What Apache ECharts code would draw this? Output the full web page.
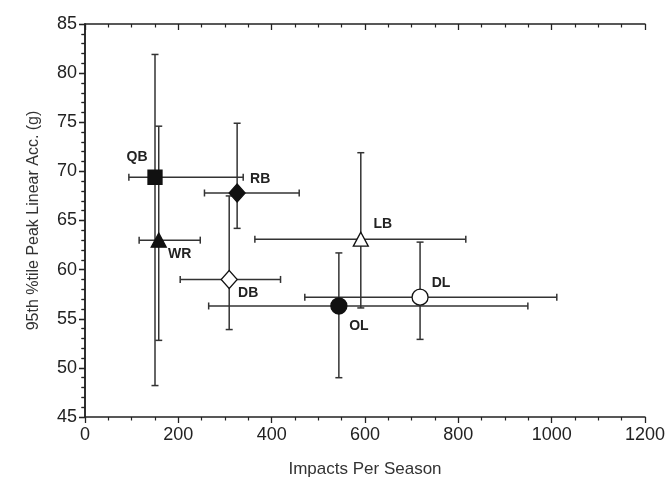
<!DOCTYPE html>
<html><head><meta charset="utf-8">
<script src="https://cdn.jsdelivr.net/npm/echarts@6/dist/echarts.min.js"></script>
<style>html,body{margin:0;padding:0;background:#fff}#c{width:672px;height:477px}</style>
</head><body><div id="c"></div>
<script>
// Data
var positions = ['QB', 'RB', 'WR', 'DB', 'LB', 'OL', 'DL'];
var impacts   = [150, 326, 158, 309, 591, 544, 718];
var accel     = [69.4, 67.8, 63.0, 59.0, 63.1, 56.3, 57.2];
var impactsLow  = [94, 256, 116, 204, 364, 265, 471];
var impactsHigh = [339, 459, 247, 419, 816, 949, 1011];
var accelLow  = [48.2, 64.2, 52.8, 53.9, 56.1, 49.0, 52.9];
var accelHigh = [81.9, 74.9, 74.6, 67.5, 71.9, 61.7, 62.8];
var xTicks = [0, 200, 400, 600, 800, 1000, 1200];
var yTicks = [45, 50, 55, 60, 65, 70, 75, 80, 85];

// styling
var symbols = {QB:'rect', RB:'diamond', WR:'triangle', DB:'diamond', LB:'triangle', OL:'circle', DL:'circle'};
var sizes = {QB:[14,14], RB:[16,18], WR:[15,14], DB:[16,18], LB:[15,14], OL:[16,16], DL:[16,16]};
var filled = {QB:true, RB:true, WR:true, DB:false, LB:false, OL:true, DL:false};
var labelOff = {QB:[-18,-20], RB:[23,-14], WR:[21,14], DB:[19,14], LB:[22,-15], OL:[20,20], DL:[21,-14]};

var errData = positions.map(function(p,i){
  return [impacts[i], accel[i], impactsLow[i], impactsHigh[i], accelLow[i], accelHigh[i]];
});
var font = 'Liberation Sans, Arial, sans-serif';
var ptData = positions.map(function(p,i){
  return {
    value:[impacts[i], accel[i]], name:p,
    symbol: symbols[p], symbolSize: sizes[p],
    itemStyle:{color: filled[p] ? '#111' : '#ffffff', borderColor:'#111', borderWidth:1.3, opacity:1},
    label:{show:true, formatter:p, position:'inside', offset:labelOff[p], color:'#222', fontWeight:'bold', fontSize:14, fontFamily:font}
  };
});

var lineStyle = {stroke:'#333', lineWidth:1.5};
var cap = 3.5;
function renderErr(params, api){
  var x = api.value(0), y = api.value(1);
  var c = api.coord([x,y]);
  var l = api.coord([api.value(2), y]);
  var r = api.coord([api.value(3), y]);
  var b = api.coord([x, api.value(4)]);
  var t = api.coord([x, api.value(5)]);
  function ln(x1,y1,x2,y2){return {type:'line', shape:{x1:x1,y1:y1,x2:x2,y2:y2}, style:lineStyle};}
  return {type:'group', children:[
    ln(l[0],c[1],r[0],c[1]),
    ln(l[0],c[1]-cap,l[0],c[1]+cap),
    ln(r[0],c[1]-cap,r[0],c[1]+cap),
    ln(c[0],b[1],c[0],t[1]),
    ln(c[0]-cap,b[1],c[0]+cap,b[1]),
    ln(c[0]-cap,t[1],c[0]+cap,t[1])
  ]};
}

var axisLine = {show:true, lineStyle:{color:'#222', width:1.5}};
function xAxis(pos, inside){
  return {type:'value', position:pos, min:xTicks[0], max:xTicks[xTicks.length-1], interval:200,
    axisLine:axisLine, splitLine:{show:false},
    axisTick:{show:true, inside:inside, length:6, lineStyle:{color:'#222', width:1.3}},
    minorTick:{show:true, splitNumber:4, length:3.5, lineStyle:{color:'#222', width:1.2}},
    axisLabel:{show:!inside, color:'#222', fontSize:18, fontFamily:font, margin:9, formatter:function(v){return String(v);}},
    name: inside ? '' : 'Impacts Per Season', nameLocation:'middle', nameGap:44,
    nameTextStyle:{color:'#333', fontSize:17, fontFamily:font}
  };
}
function yAxis(pos, inside){
  return {type:'value', position:pos, min:yTicks[0], max:yTicks[yTicks.length-1], interval:5,
    axisLine:axisLine, splitLine:{show:false},
    axisTick:{show:true, inside:inside, length:6, lineStyle:{color:'#222', width:1.3}},
    minorTick:{show:true, splitNumber:5, length:3.5, lineStyle:{color:'#222', width:1.2}},
    axisLabel:{show:!inside, color:'#222', fontSize:18, fontFamily:font, margin:8},
    name: inside ? '' : '95th %tile Peak Linear Acc. (g)', nameLocation:'middle', nameGap:43,
    nameTextStyle:{color:'#333', fontSize:16, fontFamily:font}
  };
}

var chart = echarts.init(document.getElementById('c'), null, {renderer:'canvas'});
chart.setOption({
  animation:false,
  backgroundColor:'#fff',
  grid:{left:85, right:27, top:24, bottom:60, containLabel:false, outerBoundsMode:'none'},
  xAxis:[xAxis('bottom', false), xAxis('top', true)],
  yAxis:[yAxis('left', false), yAxis('right', true)],
  series:[
    {type:'custom', renderItem:renderErr, data:errData, xAxisIndex:0, yAxisIndex:0, z:2, silent:true},
    {type:'scatter', data:ptData, xAxisIndex:0, yAxisIndex:0, z:3}
  ]
});
</script></body></html>
